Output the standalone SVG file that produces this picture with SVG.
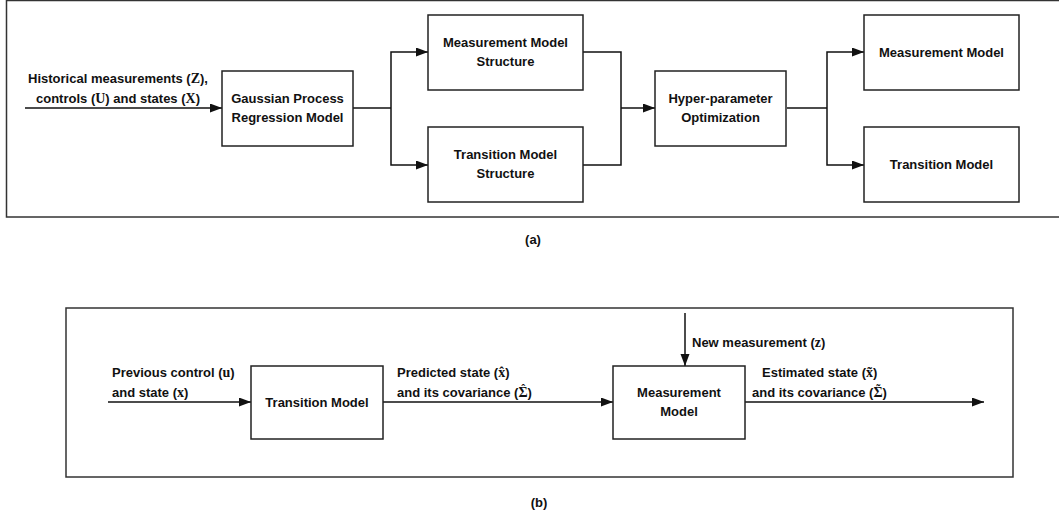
<svg xmlns="http://www.w3.org/2000/svg" width="1059" height="519" viewBox="0 0 1059 519">
<style>
.t{font-family:"Liberation Sans",Arial,sans-serif;font-weight:bold;font-size:13px;fill:#111}
.m{font-family:"Liberation Serif","Times New Roman",serif;font-weight:bold;font-size:14px}
.a{font-family:"Liberation Serif","Times New Roman",serif;font-weight:bold;font-size:12px}
.c{text-anchor:middle}
.box{fill:#fff;stroke:#222;stroke-width:1.5}
.frame{fill:none;stroke:#333;stroke-width:1.5}
.ln{fill:none;stroke:#111;stroke-width:1.5}
</style>
<defs>
<marker id="ah" markerUnits="userSpaceOnUse" markerWidth="13" markerHeight="10" refX="12" refY="4.5" orient="auto">
<path d="M0,0 L12,4.5 L0,9 z" fill="#111"/>
</marker>
</defs>
<rect class="frame" x="6.5" y="0.5" width="1060" height="216.5"/>
<rect class="frame" x="66" y="308" width="947" height="169"/>
<g id="connectors">
<path class="ln" d="M25,108 H222" marker-end="url(#ah)"/>
<path class="ln" d="M353,108 H391"/>
<path class="ln" d="M391,108 V52 H428" marker-end="url(#ah)"/>
<path class="ln" d="M391,108 V165 H428" marker-end="url(#ah)"/>
<path class="ln" d="M583,52 H621 V165 H583"/>
<path class="ln" d="M621,108 H655" marker-end="url(#ah)"/>
<path class="ln" d="M787,108 H827"/>
<path class="ln" d="M827,108 V52 H864" marker-end="url(#ah)"/>
<path class="ln" d="M827,108 V165 H864" marker-end="url(#ah)"/>
<path class="ln" d="M108,402 H251" marker-end="url(#ah)"/>
<path class="ln" d="M383,402 H613" marker-end="url(#ah)"/>
<path class="ln" d="M685,313 V366" marker-end="url(#ah)"/>
<path class="ln" d="M745,402 H984" marker-end="url(#ah)"/>
</g>
<g id="labels">
<text class="t c" x="118" y="83">Historical measurements (<tspan class="m">Z</tspan>),</text>
<text class="t c" x="118" y="103">controls (<tspan class="m">U</tspan>) and states (<tspan class="m">X</tspan>)</text>
<text class="t" x="112" y="377">Previous control (<tspan class="m">u</tspan>)</text>
<text class="t" x="112" y="397">and state (<tspan class="m">x</tspan>)</text>
<text class="t" x="397" y="377">Predicted state (<tspan class="m">x</tspan><tspan class="m" dx="-5.8">ˆ</tspan><tspan dx="1.1">)</tspan></text>
<text class="t" x="397" y="397">and its covariance (<tspan class="m">Σ</tspan><tspan class="a" dx="-6.2" dy="-4.5">ˆ</tspan><tspan dx="2.2" dy="4.5">)</tspan></text>
<text class="t" x="692" y="347">New measurement (<tspan class="m">z</tspan>)</text>
<text class="t" x="762" y="377">Estimated state (<tspan class="m">x</tspan><tspan class="m" dx="-5.8">˜</tspan><tspan dx="1.1">)</tspan></text>
<text class="t" x="752" y="397">and its covariance (<tspan class="m">Σ</tspan><tspan class="a" dx="-6.2" dy="-4.5">˜</tspan><tspan dx="2.2" dy="4.5">)</tspan></text>
<text class="t c" x="533" y="244">(a)</text>
<text class="t c" x="539" y="507">(b)</text>
</g>
<g id="gpr">
<rect class="box" x="222" y="71" width="131" height="75"/>
<text class="t c" x="287.5" y="103">Gaussian Process</text>
<text class="t c" x="287.5" y="122">Regression Model</text>
</g>
<g id="mms">
<rect class="box" x="428" y="15" width="155" height="75"/>
<text class="t c" x="505.5" y="47">Measurement Model</text>
<text class="t c" x="505.5" y="66">Structure</text>
</g>
<g id="tms">
<rect class="box" x="428" y="127" width="155" height="75"/>
<text class="t c" x="505.5" y="159">Transition Model</text>
<text class="t c" x="505.5" y="178">Structure</text>
</g>
<g id="hpo">
<rect class="box" x="655" y="71" width="131" height="75"/>
<text class="t c" x="720.5" y="103">Hyper-parameter</text>
<text class="t c" x="720.5" y="122">Optimization</text>
</g>
<g id="mm-a">
<rect class="box" x="864" y="15" width="155" height="75"/>
<text class="t c" x="941.5" y="57">Measurement Model</text>
</g>
<g id="tm-a">
<rect class="box" x="864" y="127" width="155" height="75"/>
<text class="t c" x="941.5" y="169">Transition Model</text>
</g>
<g id="tm-b">
<rect class="box" x="251" y="366" width="132" height="73"/>
<text class="t c" x="317" y="407">Transition Model</text>
</g>
<g id="mm-b">
<rect class="box" x="613" y="366" width="132" height="73"/>
<text class="t c" x="679" y="397">Measurement</text>
<text class="t c" x="679" y="416">Model</text>
</g>
</svg>
